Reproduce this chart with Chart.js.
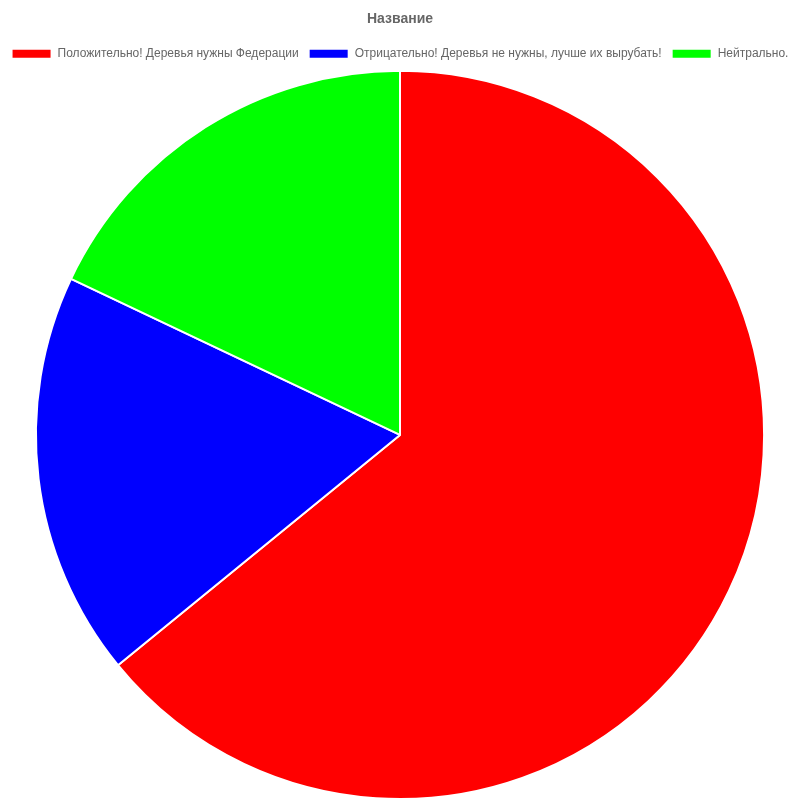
<!DOCTYPE html>
<html>
<head>
<meta charset="utf-8">
<script src="https://cdn.jsdelivr.net/npm/chart.js@4"></script>
<style>
	body { margin: 0; background: #fff; }
	#wrap { width: 800px; height: 800px; }
</style>
</head>
<body>
<div id="wrap"><canvas id="pieChart"></canvas></div>
<script>
var labels = [
	"Положительно! Деревья нужны Федерации",
	"Отрицательно! Деревья не нужны, лучше их вырубать!",
	"Нейтрально."
];
var votes = [25, 7, 7];
var colors = ["#ff0000", "#0000ff", "#00ff00"];

Chart.defaults.font.family = "Arial, 'Liberation Sans', Helvetica, sans-serif";
Chart.defaults.color = "#666";

function drawChart() {
	var ctx = document.getElementById("pieChart").getContext("2d");
	new Chart(ctx, {
		type: "pie",
		data: {
			labels: labels,
			datasets: [
				{
					data: votes,
					backgroundColor: colors,
					borderColor: "#fff",
					borderWidth: 2
				}
			]
		},
		options: {
			responsive: true,
			maintainAspectRatio: false,
			animation: false,
			plugins: {
				title: {
					display: true,
					text: "Название",
					font: { size: 14, weight: "bold" },
					padding: { top: 11, bottom: 10 }
				},
				legend: {
					position: "top",
					labels: { boxWidth: 40, boxHeight: 10, font: { size: 12 } }
				},
				tooltip: { enabled: false }
			}
		}
	});
}

window.onload = function () {
	drawChart();
};
</script>
</body>
</html>
